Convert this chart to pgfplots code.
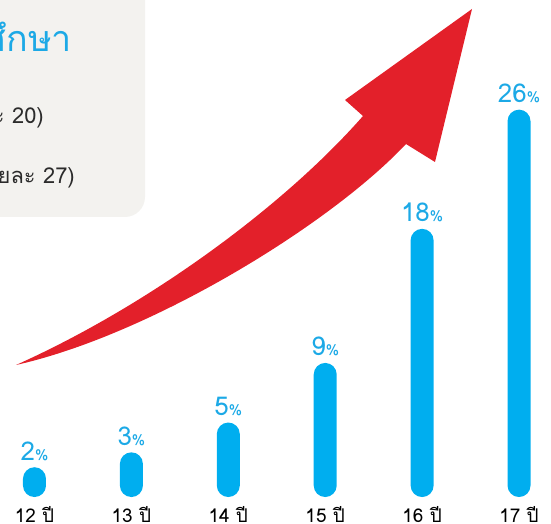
\documentclass[border=0pt]{standalone}
\usepackage{fontspec}
\setmainfont[Script=Thai]{Loma}
\usepackage{pgfplots}
\pgfplotsset{compat=1.18}
\definecolor{barblue}{HTML}{00AEEF}
\definecolor{labelblue}{HTML}{1CA9E6}
\definecolor{boxgrey}{HTML}{F3F2EF}
\definecolor{arrowred}{HTML}{E3202A}
\definecolor{textdark}{HTML}{2B2B2B}

\begin{document}
\begin{tikzpicture}
\useasboundingbox (0,0) rectangle (551bp,524bp);
\clip (0,0) rectangle (551bp,524bp);

% grey note box and red arrow, in pixel units (y downwards)
\begin{scope}[x=1bp, y=-1bp, yshift=524bp]
  \fill[boxgrey, rounded corners=20bp] (-40,-40) rectangle (145,217);
  \node[anchor=base east, inner sep=0, text=labelblue, font=\fontsize{36}{36}\selectfont] at (72,52) {การศึกษา};
  \node[anchor=east, inner sep=0, text=textdark, font=\fontsize{22}{22}\selectfont] at (44,117) {ร้อยละ 20)};
  \node[anchor=east, inner sep=0, text=textdark, font=\fontsize{22}{22}\selectfont] at (75,177) {ร้อยละ 27)};
  \fill[arrowred] (16,365) .. controls (150,305) and (285,205) .. (363,116)
    -- (345,100) -- (472,9) -- (435,162) -- (406,144)
    .. controls (330,225) and (150,335) .. (16,365) -- cycle;
\end{scope}

\begin{axis}[
    at={(0,0)}, anchor=south west,
    scale only axis,
    width=551bp, height=524bp,
    xmin=-0.356, xmax=5.330,
    ymin=-1.81, ymax=33.36,
    axis line style={draw=none},
    tick style={draw=none},
    ytick=\empty,
    xtick={0,1,2,3,4,5},
    xticklabels={12 ปี,13 ปี,14 ปี,15 ปี,16 ปี,17 ปี},
    xticklabel style={anchor=base, yshift=6bp, inner sep=0, text=black, font=\fontsize{19}{19}\selectfont},
    /pgf/number format/assume math mode=true,
    ybar,
    bar width=23bp,
    clip=false,
]
\addplot[fill=barblue, draw=none, rounded corners=11.5bp,
    nodes near coords={\pgfmathprintnumber{\pgfplotspointmeta}{\fontsize{15}{15}\selectfont\%}},
    every node near coord/.append style={anchor=base, yshift=7bp, inner sep=0, text=labelblue, font=\fontsize{26}{26}\selectfont},
] coordinates {(0,2) (1,3) (2,5) (3,9) (4,18) (5,26)};
\end{axis}
\end{tikzpicture}
\end{document}
